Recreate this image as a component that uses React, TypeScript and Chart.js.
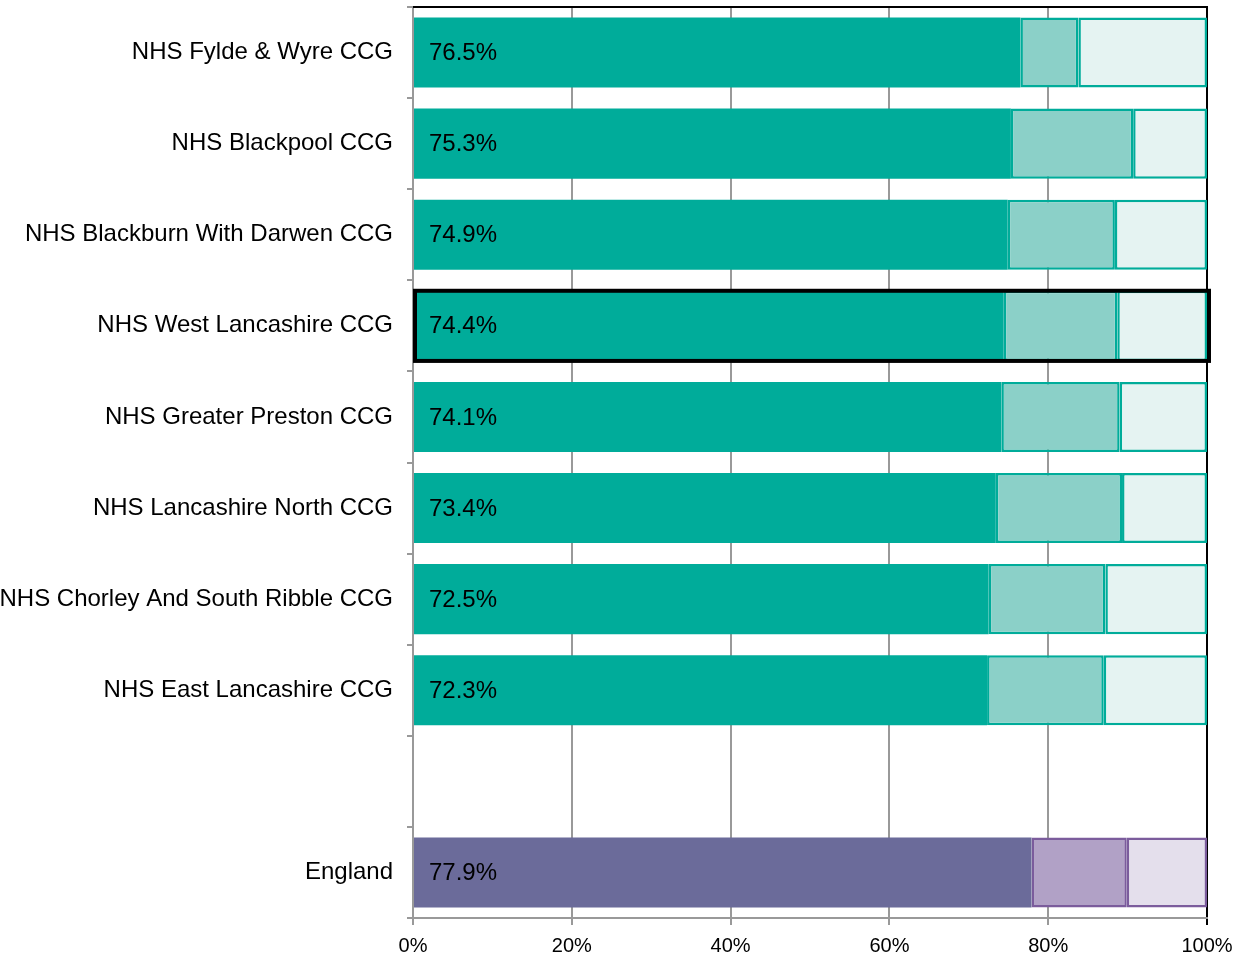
import React, { useEffect, useRef } from "react";
import { Chart, registerables } from "chart.js";

Chart.register(...registerables);

const categories = [
  "NHS Fylde & Wyre CCG",
  "NHS Blackpool CCG",
  "NHS Blackburn With Darwen CCG",
  "NHS West Lancashire CCG",
  "NHS Greater Preston CCG",
  "NHS Lancashire North CCG",
  "NHS Chorley And South Ribble CCG",
  "NHS East Lancashire CCG",
  "",
  "England",
];
const mainValues = [76.5, 75.3, 74.9, 74.4, 74.1, 73.4, 72.5, 72.3, null, 77.9];
const midValues = [7.3, 15.4, 13.5, 14.3, 14.9, 15.9, 14.7, 14.7, null, 12.0];
const restValues = [16.2, 9.3, 11.6, 11.3, 11.0, 10.7, 12.8, 13.0, null, 10.1];
const xTicks = [0, 20, 40, 60, 80, 100];
const highlightIndex = 3;
const englandIndex = 9;

const TEAL = ["#00AC9A", "#8BD0C8", "#E5F3F2"];
const TEAL_BORDER = "#00AC9A";
const PURPLE = ["#6B6B9A", "#B1A1C6", "#E4DFEC"];
const PURPLE_BORDER = "#7B5C9C";

const FONT = "'Liberation Sans', Arial, sans-serif";

export default function App() {
  const ref = useRef<HTMLCanvasElement | null>(null);

  useEffect(() => {
    document.body.style.margin = "0";
    const canvas = ref.current;
    if (!canvas) return;

    const colorFor = (shade: number) => (ctx: any) =>
      ctx.dataIndex === englandIndex ? PURPLE[shade] : TEAL[shade];
    const borderFor = (shade: number) => (ctx: any) =>
      ctx.dataIndex === englandIndex
        ? shade === 0 ? PURPLE[0] : PURPLE_BORDER
        : TEAL_BORDER;

    const labelPlugin = {
      id: "valueLabels",
      afterDatasetsDraw(chart: any) {
        const c = chart.ctx;
        const meta = chart.getDatasetMeta(0);
        const xs = chart.scales.x;
        c.save();
        c.font = `24px ${FONT}`;
        c.fillStyle = "#000";
        c.textAlign = "left";
        c.textBaseline = "middle";
        meta.data.forEach((bar: any, i: number) => {
          const v = mainValues[i];
          if (v == null) return;
          c.fillText(v.toFixed(1) + "%", xs.getPixelForValue(0) + 16, bar.y + 1);
        });
        // highlight outline
        const hb = meta.data[highlightIndex];
        if (hb) {
          const x0 = xs.getPixelForValue(0);
          const x1 = xs.getPixelForValue(100);
          c.lineWidth = 4;
          c.strokeStyle = "#000";
          c.strokeRect(x0 + 2, hb.y - hb.height / 2, x1 - x0, hb.height);
        }
        // top border
        const ca = chart.chartArea;
        c.lineWidth = 2;
        c.strokeStyle = "#000";
        c.beginPath();
        c.moveTo(ca.left, ca.top);
        c.lineTo(ca.right + 1, ca.top);
        c.stroke();
        c.restore();
      },
    };

    const chart = new Chart(canvas, {
      type: "bar",
      data: {
        labels: categories,
        datasets: [
          {
            data: mainValues as any,
            backgroundColor: colorFor(0) as any,
            borderColor: borderFor(0) as any,
            borderWidth: 0,
          },
          {
            data: midValues as any,
            backgroundColor: colorFor(1) as any,
            borderColor: borderFor(1) as any,
            borderWidth: 2.5,
          },
          {
            data: restValues as any,
            backgroundColor: colorFor(2) as any,
            borderColor: borderFor(2) as any,
            borderWidth: 2.5,
          },
        ],
      },
      options: {
        indexAxis: "y",
        animation: false,
        responsive: false,
        maintainAspectRatio: false,
        layout: { padding: { top: 7, right: 0, left: 0, bottom: 0 } },
        datasets: {
          bar: { categoryPercentage: 1, barPercentage: 0.77, borderSkipped: false },
        },
        plugins: {
          legend: { display: false },
          tooltip: { enabled: false },
        },
        scales: {
          x: {
            stacked: true,
            min: 0,
            max: 100,
            afterBuildTicks: (s: any) => {
              s.ticks = xTicks.map((v) => ({ value: v }));
            },
            afterFit: (s: any) => {
              s.height = 37;
              s.paddingLeft = 0;
              s.paddingRight = 29;
            },
            ticks: {
              callback: (v: any) => v + "%",
              color: "#000",
              font: { family: FONT, size: 20 },
              padding: 9,
              maxRotation: 0,
            },
            grid: {
              color: (ctx: any) =>
                ctx.tick && ctx.tick.value === 100 ? "#000" : "#999",
              lineWidth: 2,
              tickLength: 7,
              tickColor: (ctx: any) =>
                ctx.tick && ctx.tick.value === 100 ? "#000" : "#999",
            },
            border: { color: "#999", width: 2 },
          },
          y: {
            stacked: true,
            afterFit: (s: any) => {
              s.width = 413;
              s.paddingTop = 0;
              s.paddingBottom = 0;
            },
            ticks: {
              color: "#000",
              font: { family: FONT, size: 24 },
              padding: 14,
            },
            grid: {
              offset: true,
              drawOnChartArea: false,
              tickLength: 6,
              lineWidth: 2,
              color: "#999",
            },
            border: { color: "#999", width: 2 },
          },
        },
      },
      plugins: [labelPlugin],
    });

    return () => chart.destroy();
  }, []);

  return (
    <div style={{ position: "fixed", left: 0, top: 0, width: 1236, height: 955 }}>
      <canvas ref={ref} width={1236} height={955} style={{ width: 1236, height: 955 }} />
    </div>
  );
}
